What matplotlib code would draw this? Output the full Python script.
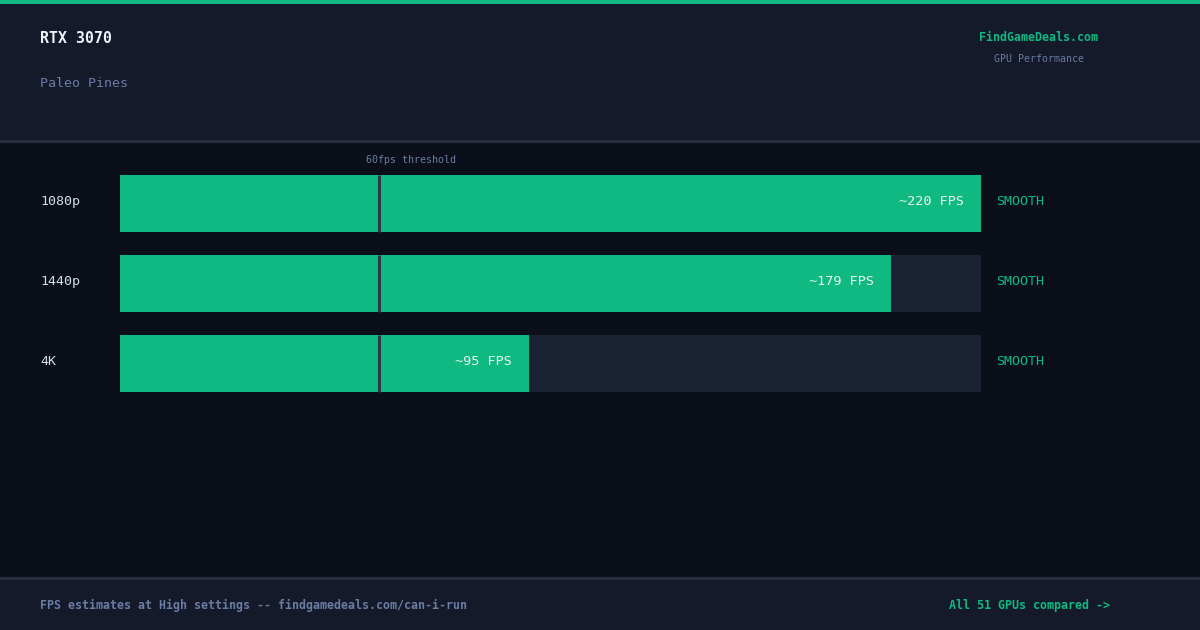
import matplotlib.pyplot as plt
from matplotlib.patches import Rectangle
from matplotlib.transforms import Affine2D

plt.rcParams['font.family'] = ['DejaVu Sans Mono']

gpu = 'RTX 3070'
game = 'Paleo Pines'
resolutions = ['1080p', '1440p', '4K']
fps = [220, 179, 95]
verdicts = ['SMOOTH', 'SMOOTH', 'SMOOTH']
threshold = 60
fps_max = 200
gpu_count = 51

W, H = 1200, 630
GREEN = '#10b981'
HEADER_BG = '#141a2a'
MAIN_BG = '#0b0f1a'
TRACK = '#1a2234'
MUTED = '#6b7ca3'

fig = plt.figure(figsize=(12, 6.3), dpi=100)
fig.patch.set_facecolor(MAIN_BG)


def fx(x):
    return x / W


def fy(y):
    return 1 - y / H


def band(y0, y1, color):
    fig.patches.append(Rectangle((0, fy(y1)), 1, (y1 - y0) / H, transform=fig.transFigure,
                                 facecolor=color, edgecolor='none', zorder=0))


# header, footer and dividers
band(0, 141, HEADER_BG)
band(0, 4, GREEN)
band(140, 143, '#262d3d')
band(578, 630, HEADER_BG)
band(577, 580, '#262d3d')

fig.text(fx(40), fy(38.5), gpu, color='#eef2fa', fontsize=10.7, fontweight='bold', va='center')
fig.text(fx(40), fy(83.5), game, color=MUTED, fontsize=9.6, va='center')
fig.text(fx(1039), fy(37.5), 'FindGameDeals.com', color=GREEN, fontsize=8.4,
         fontweight='bold', ha='center', va='center')
fig.text(fx(1039), fy(59.5), 'GPU Performance', color=MUTED, fontsize=7.1, ha='center', va='center')

fig.text(fx(40), fy(605), 'FPS estimates at High settings -- findgamedeals.com/can-i-run',
         color=MUTED, fontsize=8.4, fontweight='bold', va='center')
fig.text(fx(949), fy(605), f'All {gpu_count} GPUs compared ->', color=GREEN, fontsize=8.4,
         fontweight='bold', va='center')

# bar area: x 120..981 px, rows every 80 px starting at centre 203.5
ax = fig.add_axes([fx(120), fy(403.5), (981 - 120) / W, 240 / H])
ax.set_xlim(0, fps_max)
ax.set_ylim(len(resolutions) - 0.5, -0.5)
ax.axis('off')

rows = list(range(len(resolutions)))
bh = 57 / 80
ax.barh(rows, [fps_max] * len(rows), height=bh, color=TRACK, zorder=1)
ax.barh(rows, [min(v, fps_max) for v in fps], height=bh, color=GREEN, zorder=2)

nudge = ax.transData + Affine2D().translate(1.2, 0)
for r, v in zip(rows, fps):
    ax.plot([threshold, threshold], [r - bh / 2, r + bh / 2], color='#2f3547',
            linewidth=2.2, solid_capstyle='butt', zorder=3, transform=nudge)
    ax.annotate(f'~{v} FPS', (min(v, fps_max), r), xytext=(-17, 2), textcoords='offset pixels',
                ha='right', va='center', color='#eaf6f0', fontsize=9.7, zorder=4)

ax.annotate(f'{threshold}fps threshold', (threshold, -0.5), xytext=(33, 3.5),
            textcoords='offset pixels', ha='center', va='center', color=MUTED, fontsize=7.2)

for r, (res, verdict) in enumerate(zip(resolutions, verdicts)):
    y = 201.5 + 80 * r
    fig.text(fx(40), fy(y), res, color='#d4dae6', fontsize=9.6, va='center')
    fig.text(fx(996), fy(y), verdict, color=GREEN, fontsize=9.6, va='center')

fig.savefig('out.png', dpi=100, facecolor=fig.get_facecolor())
